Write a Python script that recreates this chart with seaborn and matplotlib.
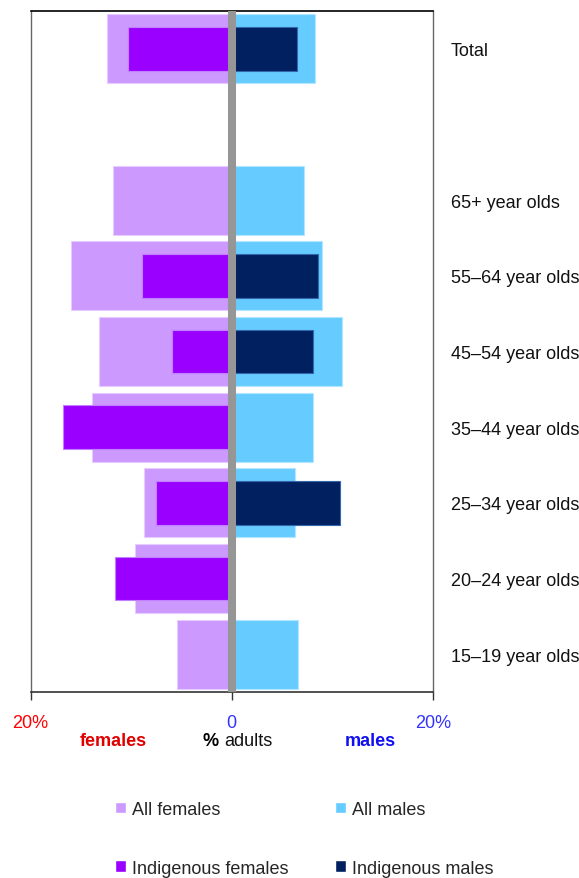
import numpy as np
import pandas as pd
import matplotlib
matplotlib.use("Agg")
import matplotlib.pyplot as plt
import seaborn as sns
from matplotlib import font_manager
from matplotlib.patches import Patch

nan = np.nan

# Age groups, top to bottom (blank slot between Total and 65+)
categories = ["Total", " ", "65+ year olds", "55–64 year olds", "45–54 year olds",
              "35–44 year olds", "25–34 year olds", "20–24 year olds", "15–19 year olds"]

# % adults
all_females = [12.4, nan, 11.8, 16.0, 13.2, 13.9, 8.7, 9.6, 5.4]
indig_females = [10.3, nan, nan, 8.9, 5.9, 16.8, 7.5, 11.6, nan]
all_males = [8.3, nan, 7.2, 9.0, 11.0, 8.1, 6.3, nan, 6.6]
indig_males = [6.5, nan, nan, 8.6, 8.1, nan, 10.8, nan, nan]

x_ticks = [-20, 0, 20]
x_tick_labels = ["20%", "0", "20%"]
x_tick_colors = ["#FF0000", "#3333FF", "#3333FF"]

sns.set_style("white")
installed = {f.name for f in font_manager.fontManager.ttflist}
if "Liberation Sans Narrow" in installed:
    plt.rcParams["font.family"] = ["Liberation Sans Narrow", "DejaVu Sans"]
    fs = 15
else:
    plt.rcParams["font.family"] = ["Liberation Sans", "DejaVu Sans"]
    fs = 13

df = pd.DataFrame({
    "group": categories,
    "all_f": [-v for v in all_females],
    "ind_f": [-v for v in indig_females],
    "all_m": all_males,
    "ind_m": indig_males,
})

fig = plt.figure(figsize=(5.79, 8.79), dpi=100)
ax = fig.add_axes([30.5 / 579, 1 - 693 / 879, 402.5 / 579, 681 / 879])

# All adults (wide bars) first, Indigenous (narrow bars) on top
sns.barplot(data=df, x="all_f", y="group", order=categories, color="#CC99FF",
            width=0.91, errorbar=None, orient="h", saturation=1,
            edgecolor="#E6CCFF", linewidth=0.8, ax=ax)
sns.barplot(data=df, x="all_m", y="group", order=categories, color="#66CCFF",
            width=0.91, errorbar=None, orient="h", saturation=1,
            edgecolor="#B3E6FF", linewidth=0.8, ax=ax)
sns.barplot(data=df, x="ind_f", y="group", order=categories, color="#9900FF",
            width=0.58, errorbar=None, orient="h", saturation=1,
            edgecolor="#C080FF", linewidth=0.8, ax=ax)
sns.barplot(data=df, x="ind_m", y="group", order=categories, color="#002060",
            width=0.58, errorbar=None, orient="h", saturation=1,
            edgecolor="#3366AA", linewidth=0.8, ax=ax)

ax.axvline(0, color="#969696", linewidth=5.8, zorder=5)

ax.set_xlim(-20, 20)
ax.set_ylim(len(categories) - 0.5, -0.5)
ax.set_xlabel("")
ax.set_ylabel("")

# category labels on the right
ax.yaxis.tick_right()
ax.set_yticks(range(len(categories)))
ax.set_yticklabels(categories, fontsize=fs, color="#111111")
ax.tick_params(axis="y", length=0, pad=13)

ax.set_xticks(x_ticks)
ax.set_xticklabels(x_tick_labels, fontsize=fs)
for lbl, c in zip(ax.get_xticklabels(), x_tick_colors):
    lbl.set_color(c)
ax.tick_params(axis="x", direction="out", length=6, width=1, color="#333333", pad=9.5, bottom=True)

ax.spines["top"].set_color("black")
ax.spines["top"].set_linewidth(1.2)
ax.spines["bottom"].set_color("#333333")
ax.spines["bottom"].set_linewidth(1.2)
for s in ["left", "right"]:
    ax.spines[s].set_color("#666666")
    ax.spines[s].set_linestyle((0, (1, 1)))
    ax.spines[s].set_linewidth(1)

# axis captions
y_cap = 1 - 742 / 879
fig.text(113 / 579, y_cap, "females", color="#E00000", fontsize=fs, fontweight="bold",
         ha="center", va="center")
fig.text(219 / 579, y_cap, "%", color="black", fontsize=fs, fontweight="bold",
         ha="right", va="center")
fig.text(224 / 579, y_cap, "adults", color="#111111", fontsize=fs, ha="left", va="center")
fig.text(370 / 579, y_cap, "males", color="#1010F0", fontsize=fs, fontweight="bold",
         ha="center", va="center")

handles = [
    Patch(facecolor="#CC99FF", label="All females"),
    Patch(facecolor="#9900FF", label="Indigenous females"),
    Patch(facecolor="#66CCFF", label="All males"),
    Patch(facecolor="#002060", label="Indigenous males"),
]
fig.legend(handles=handles, ncol=2, loc="upper left",
           bbox_to_anchor=(115 / 579, 1 - 802 / 879), frameon=False,
           fontsize=fs, handlelength=0.62, handleheight=0.62, handletextpad=0.3,
           columnspacing=2.6, labelspacing=2.3, borderpad=0, borderaxespad=0)

fig.savefig("out.png", dpi=100)
